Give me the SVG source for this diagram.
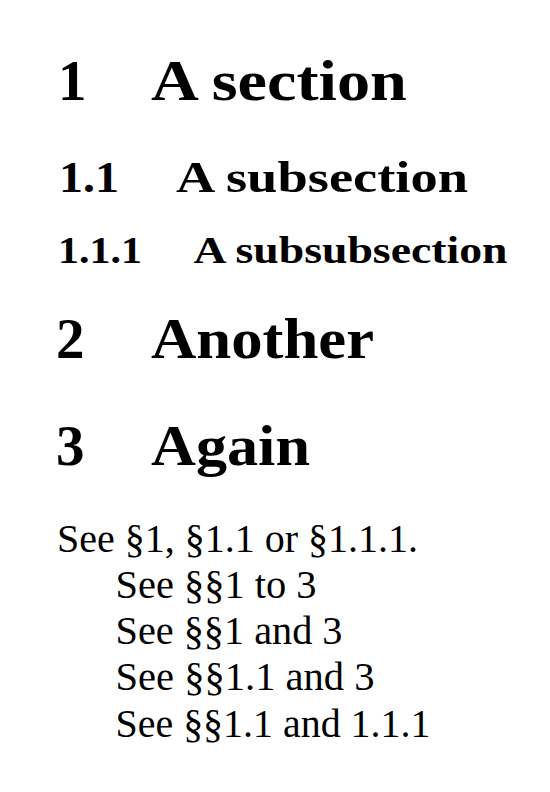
<svg xmlns="http://www.w3.org/2000/svg" width="550" height="792" viewBox="0 0 550 792">
<style>
.h{font-family:"Liberation Serif","Times New Roman",serif;font-weight:bold;fill:#000}
.b{font-family:"Liberation Serif","Times New Roman",serif;font-size:40px;fill:#000}
.s1{font-size:57px}
.s2{font-size:45px}
.s3{font-size:38px}
</style>
<rect width="550" height="792" fill="#fff"/>
<g id="sec1">
<text class="h s1" x="58" y="100">1</text>
<text class="h s1" x="151" y="100" textLength="256" lengthAdjust="spacingAndGlyphs">A section</text>
</g>
<g id="sec1-1">
<text class="h s2" x="59" y="191.5" textLength="60" lengthAdjust="spacingAndGlyphs">1.1</text>
<text class="h s2" x="176" y="191.5" textLength="292" lengthAdjust="spacingAndGlyphs">A subsection</text>
</g>
<g id="sec1-1-1">
<text class="h s3" x="58" y="263" textLength="84" lengthAdjust="spacingAndGlyphs">1.1.1</text>
<text class="h s3" x="193.5" y="263" textLength="314" lengthAdjust="spacingAndGlyphs">A subsubsection</text>
</g>
<g id="sec2">
<text class="h s1" x="56" y="358">2</text>
<text class="h s1" x="151" y="358" textLength="223" lengthAdjust="spacingAndGlyphs">Another</text>
</g>
<g id="sec3">
<text class="h s1" x="56" y="465">3</text>
<text class="h s1" x="151" y="465" textLength="159" lengthAdjust="spacingAndGlyphs">Again</text>
</g>
<g id="body">
<text class="b" x="57" y="551.5" textLength="361" lengthAdjust="spacingAndGlyphs">See §1, §1.1 or §1.1.1.</text>
<text class="b" x="115.5" y="597.5" textLength="201" lengthAdjust="spacingAndGlyphs">See §§1 to 3</text>
<text class="b" x="115.5" y="643.5" textLength="227" lengthAdjust="spacingAndGlyphs">See §§1 and 3</text>
<text class="b" x="115.5" y="690" textLength="259" lengthAdjust="spacingAndGlyphs">See §§1.1 and 3</text>
<text class="b" x="115.5" y="736.5" textLength="315" lengthAdjust="spacingAndGlyphs">See §§1.1 and 1.1.1</text>
</g>
</svg>
